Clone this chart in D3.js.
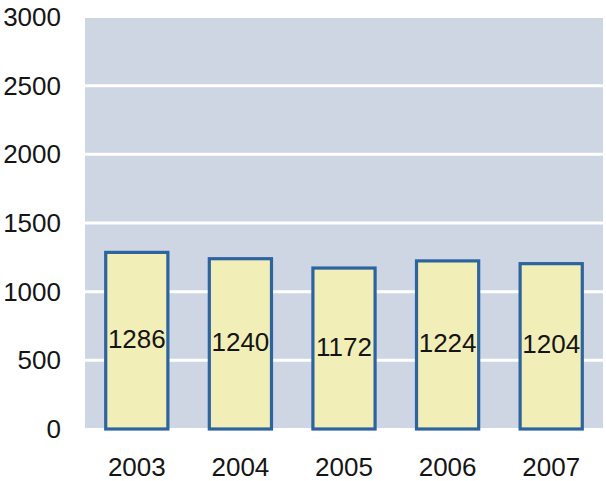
<!DOCTYPE html>
<html><head><meta charset="utf-8">
<script src="https://cdn.jsdelivr.net/npm/d3@7"></script>
<style>body{margin:0;background:#fff}svg{display:block}text{font-family:"Liberation Sans",Arial,sans-serif;fill:#151515}</style>
</head><body>
<svg id="c" width="606" height="481"></svg>
<script>
const years = ["2003","2004","2005","2006","2007"];
const values = [1286,1240,1172,1224,1204];
const yTicks = [0,500,1000,1500,2000,2500,3000];

const svg = d3.select("#c");
const x = d3.scaleBand().domain(years).range([85,603]).paddingInner(0.4).paddingOuter(0.2);
const y = d3.scaleLinear().domain([0,3000]).range([429,17]);

svg.append("rect").attr("x",85).attr("y",y(3000)+1).attr("width",518).attr("height",y(0)-y(3000)-2).attr("fill","#cdd6e2");

svg.selectAll(".grid").data(yTicks.filter(d=>d>0&&d<3000)).enter().append("line")
  .attr("x1",85).attr("x2",603).attr("y1",d=>y(d)).attr("y2",d=>y(d))
  .attr("stroke","#fff").attr("stroke-width",3);

svg.selectAll(".yt").data(yTicks).enter().append("text")
  .attr("x",61).attr("y",d=>y(d)).attr("text-anchor","end").attr("dominant-baseline","central")
  .attr("font-size",26).text(d=>d);

svg.selectAll(".bar").data(values).enter().append("rect")
  .attr("x",(d,i)=>x(years[i])).attr("width",x.bandwidth())
  .attr("y",d=>y(d)).attr("height",d=>y(0)-y(d))
  .attr("fill","#f2eeb8").attr("stroke","#2d64a0").attr("stroke-width",3.2);

svg.selectAll(".bl").data(values).enter().append("text")
  .attr("x",(d,i)=>x(years[i])+x.bandwidth()/2).attr("y",d=>(y(d)+y(0))/2-2)
  .attr("text-anchor","middle").attr("dominant-baseline","central")
  .attr("font-size",26).text(d=>d);

svg.selectAll(".xl").data(years).enter().append("text")
  .attr("x",d=>x(d)+x.bandwidth()/2).attr("y",467).attr("text-anchor","middle").attr("dominant-baseline","central")
  .attr("font-size",26).text(d=>d);
</script>
</body></html>
